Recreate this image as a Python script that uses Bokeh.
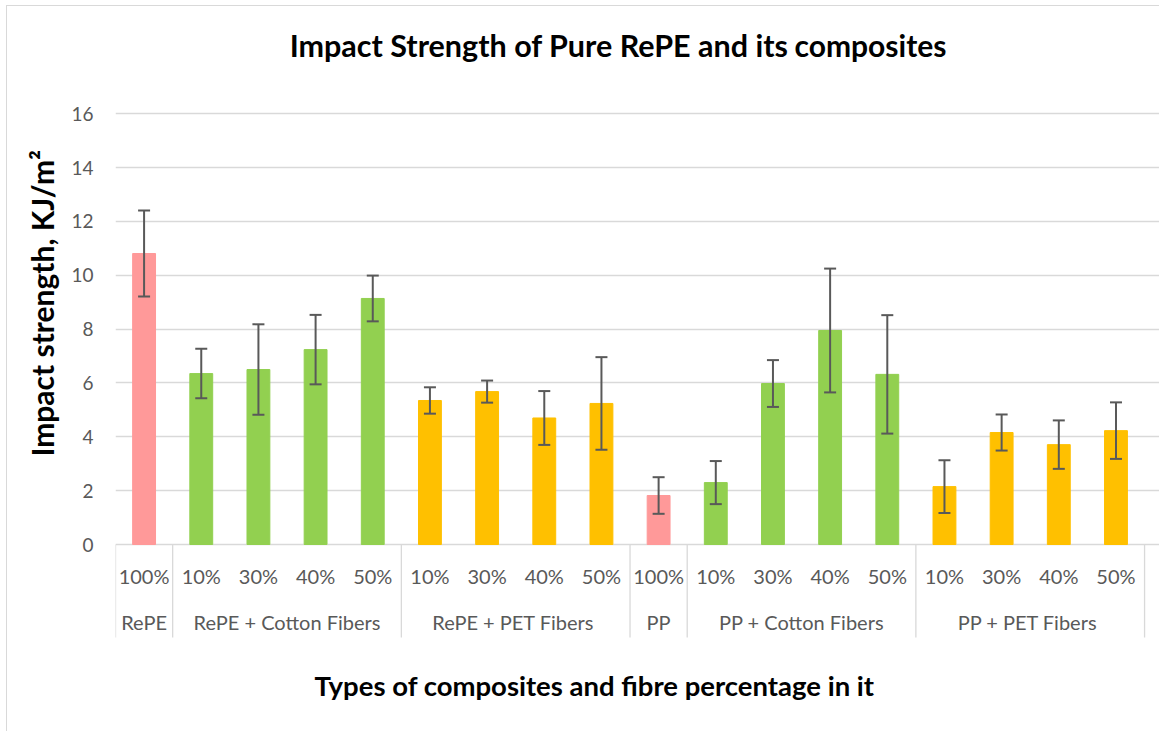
from bokeh.plotting import figure
from bokeh.models import (Range1d, FixedTicker, Whisker, TeeHead, ColumnDataSource,
                          Label, Title)
from bokeh.core.properties import value
from bokeh.embed import file_html
from bokeh.resources import INLINE

# ---------------- data ----------------
group_names = ["RePE", "RePE + Cotton Fibers", "RePE  + PET Fibers", "PP",
               "PP + Cotton Fibers", "PP  + PET Fibers"]
group_colors = ["#FF9999", "#92D050", "#FFC000", "#FF9999", "#92D050", "#FFC000"]
group_sizes = [1, 4, 4, 1, 4, 4]
percent_labels = ["100%", "10%", "30%", "40%", "50%", "10%", "30%", "40%", "50%",
                  "100%", "10%", "30%", "40%", "50%", "10%", "30%", "40%", "50%"]
impact_strength = [10.81, 6.35, 6.50, 7.24, 9.14, 5.35, 5.68, 4.70, 5.24,
                   1.82, 2.30, 5.98, 7.95, 6.32, 2.15, 4.16, 3.71, 4.23]
std_error = [1.60, 0.92, 1.68, 1.29, 0.85, 0.49, 0.41, 1.00, 1.72,
             0.68, 0.80, 0.87, 2.30, 2.20, 0.98, 0.67, 0.90, 1.05]
y_ticks = [0, 2, 4, 6, 8, 10, 12, 14, 16]

title_a = "Impact Strength of Pure RePE and its"
title_b = "composites"
y_title = "Impact strength, KJ/m\u00b2"
x_title = "Types of composites and fibre percentage in it"

# ---------------- layout constants (page pixels) ----------------
W, H = 1159, 731
AX_LEFT = 115          # page x of category axis start
PPX = 57.17            # px per category
ZERO_Y = 544           # page y of value 0
PPU = 430.7 / 16       # px per value unit
N = len(impact_strength)

X_MAX = (W - AX_LEFT) / PPX
Y_MAX = ZERO_Y / PPU
Y_MIN = -(H - ZERO_Y) / PPU


def dx(page_x):
    return (page_x - AX_LEFT) / PPX


def dy(page_y):
    return (ZERO_Y - page_y) / PPU


p = figure(width=W, height=H, output_backend="svg", toolbar_location=None,
           x_range=Range1d(0, X_MAX), y_range=Range1d(Y_MIN, Y_MAX),
           min_border_left=AX_LEFT, min_border_right=0,
           min_border_top=0, min_border_bottom=0)
p.outline_line_color = None
p.background_fill_color = None
p.border_fill_color = None
p.xaxis.visible = False
p.xgrid.visible = False

p.yaxis.ticker = FixedTicker(ticks=y_ticks)
p.yaxis.axis_line_color = None
p.yaxis.major_tick_line_color = None
p.yaxis.minor_tick_line_color = None
p.yaxis.major_tick_in = 0
p.yaxis.major_tick_out = 0
p.yaxis.major_label_standoff = 22
p.yaxis.major_label_text_font = "Lato"
p.yaxis.major_label_text_font_size = "19px"
p.yaxis.major_label_text_color = "#595959"
p.ygrid.grid_line_color = "#D9D9D9"
p.ygrid.grid_line_width = 1.3

# bars
xs = [i + 0.5 for i in range(N)]
colors = []
for g, size in enumerate(group_sizes):
    colors += [group_colors[g]] * size

src = ColumnDataSource(dict(
    x=xs, top=impact_strength, color=colors,
    upper=[v + e for v, e in zip(impact_strength, std_error)],
    lower=[v - e for v, e in zip(impact_strength, std_error)],
))
p.vbar(x="x", top="top", width=0.40, bottom=0, color="color", source=src)

whisk = Whisker(base="x", upper="upper", lower="lower", source=src,
                line_color="#595959", line_width=2, level="overlay",
                upper_head=TeeHead(size=12, line_color="#595959", line_width=2),
                lower_head=TeeHead(size=12, line_color="#595959", line_width=2))
p.add_layout(whisk)

# category separators (multi-level axis look)
bounds = [0]
for s in group_sizes:
    bounds.append(bounds[-1] + s)
p.segment(x0=bounds, x1=bounds, y0=[0] * len(bounds), y1=[dy(637)] * len(bounds),
          line_color="#D9D9D9", line_width=1.3)

# category labels
p.text(x=xs, y=[dy(575)] * N, text=percent_labels,
       text_font=value("Lato"), text_font_size=value("20px"),
       text_color="#595959", text_align="center", text_baseline="middle")
gx = [(bounds[i] + bounds[i + 1]) / 2 for i in range(len(group_sizes))]
p.text(x=gx, y=[dy(621)] * len(gx), text=group_names,
       text_font=value("Lato"), text_font_size=value("20px"),
       text_color="#595959", text_align="center", text_baseline="middle")

# chart title (two sizes) and x-axis title, inside the frame
common = dict(text_font="Lato", text_font_style="bold", text_color="black")
p.add_layout(Label(x=dx(788), y=dy(44), text=title_a, text_align="right",
                   text_baseline="alphabetic", text_font_size="30.5px", **common))
p.add_layout(Label(x=dx(794), y=dy(44), text=title_b, text_align="left",
                   text_baseline="alphabetic", text_font_size="30px", **common))
p.add_layout(Label(x=dx(594), y=dy(685), text=x_title,
                   text_align="center", text_baseline="middle",
                   text_font_size="27.5px", **common))

# y-axis title
p.add_layout(Title(text=y_title, align="left", offset=275, standoff=18,
                   text_font="Lato", text_font_size="30px", text_font_style="bold",
                   text_color="black"), "left")

# light outer chart border (behind the transparent canvas)
p.styles = {
    "background-color": "white",
    "background-image": "linear-gradient(#D9D9D9, #D9D9D9), linear-gradient(#D9D9D9, #D9D9D9)",
    "background-size": "1px 100%, 100% 1px",
    "background-position": "6px 5px, 6px 5px",
    "background-repeat": "no-repeat",
}

open("out.html", "w").write(file_html(p, INLINE))
